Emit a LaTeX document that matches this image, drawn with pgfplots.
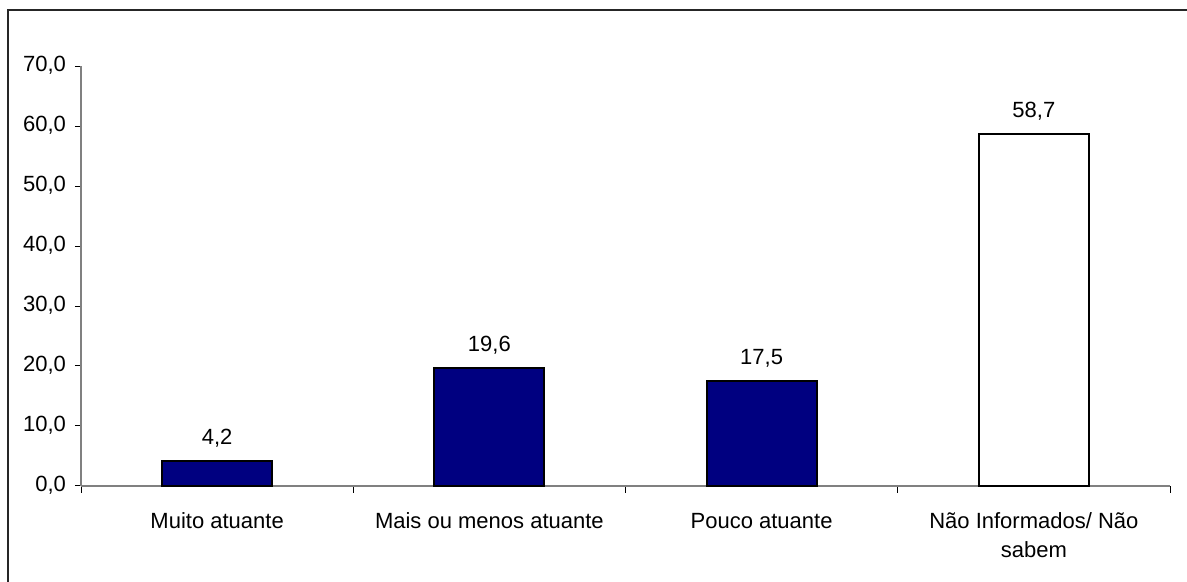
\documentclass[border=0pt]{standalone}
\usepackage{pgfplots}
\pgfplotsset{compat=1.18}
\usepackage{fontspec}
\setmainfont{Liberation Sans}
\definecolor{barnavy}{HTML}{000080}
\begin{document}
\begin{tikzpicture}[font=\fontsize{11}{14.5}\selectfont]
% page: 1187x582 px at 0.5pt per px
\path[use as bounding box] (0,0) rectangle (593.5pt,291pt);
\draw[line width=0.8pt, black!85] (4pt,0) -- (4pt,286pt) -- (593.5pt,286pt);
\begin{axis}[
    at={(40.5pt,48pt)},
    anchor=south west,
    scale only axis,
    width=544.5pt,
    height=210pt,
    xmin=-0.5, xmax=3.5,
    ymin=0, ymax=70,
    axis x line=bottom,
    axis y line=left,
    axis line style={-, gray, line width=0.8pt},
    tick align=outside,
    xtick={0,1,2,3},
    xticklabels={Muito atuante, Mais ou menos atuante, Pouco atuante, {Não Informados/ Não\\sabem}},
    typeset ticklabels with strut,
    x tick label style={align=center, yshift=-4.5pt},
    major x tick style={draw=none},
    minor xtick={-0.5,0.5,1.5,2.5,3.5},
    minor tick length=3.5pt,
    minor x tick style={black, line width=0.5pt},
    ytick={0,10,...,70},
    major tick length=3pt,
    y tick style={black, line width=0.5pt},
    y tick label style={xshift=-1pt},
    /pgf/number format/fixed,
    /pgf/number format/fixed zerofill,
    /pgf/number format/precision=1,
    /pgf/number format/use comma,
    /pgf/number format/assume math mode=true,
    ybar,
    bar width=55pt,
    bar shift=0pt,
    nodes near coords,
    every node near coord/.append style={black, yshift=3pt},
    clip=false,
]
\addplot[fill=barnavy, draw=black, line width=1.1pt] coordinates {(0,4.2) (1,19.6) (2,17.5)};
\addplot[fill=white, draw=black, line width=1.1pt] coordinates {(3,58.7)};
\end{axis}
\end{tikzpicture}
\end{document}
